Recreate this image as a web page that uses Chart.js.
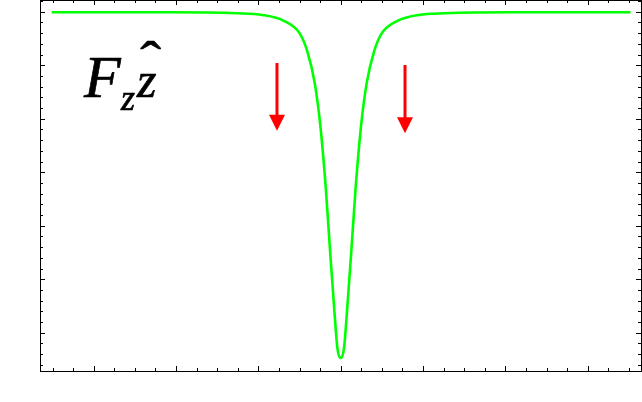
<!DOCTYPE html>
<html>
<head>
<meta charset="utf-8">
<script src="https://cdn.jsdelivr.net/npm/chart.js@4/dist/chart.umd.min.js"></script>
<style>
  html, body { margin: 0; padding: 0; background: #fff; }
  #wrap { position: relative; width: 642px; height: 402px; }
  canvas { position: absolute; left: 0; top: 0; }
  .lbl { position: absolute; font-family: 'Liberation Serif', 'Times New Roman', serif; font-style: italic; line-height: 1; color: #000; white-space: nowrap; -webkit-text-stroke: 0.7px #000; }
</style>
</head>
<body>
<div id="wrap">
  <canvas id="c" width="642" height="402"></canvas>
  <span class="lbl" style="left:84px; top:47px; font-size:60px;">F</span>
  <span class="lbl" style="left:121px; top:80px; font-size:36px;">z</span>
  <span class="lbl" style="left:137px; top:55px; font-size:50px;">z</span>
  <span class="lbl" style="left:142px; top:35px; font-size:52px; font-style:normal; transform:scaleX(1.2); transform-origin:50% 50%;">ˆ</span>
</div>
<script>
// Curve: F_z profile
const curveX = [-3.51, -2.08, -1.26, -0.95, -0.69, -0.50, -0.41, -0.316, -0.248, -0.182, -0.13, -0.069, -0.04, 0,
                 0.04, 0.069, 0.13, 0.182, 0.248, 0.316, 0.41, 0.50, 0.69, 0.95, 1.26, 2.08, 3.52];
const curveY = [-0.01, -0.01, -0.03, -0.06, -0.17, -0.40, -0.72, -1.33, -2.12, -3.28, -4.45, -5.76, -6.29, -6.47,
                -6.29, -5.76, -4.45, -3.28, -2.12, -1.33, -0.72, -0.40, -0.17, -0.06, -0.03, -0.01, -0.01];

// Arrows (x position, top of shaft, tip)
const arrowX   = [-0.774, 0.781];
const arrowTop = [-0.959, -0.996];
const arrowTip = [-2.224, -2.273];

// Axis ranges and tick values (no tick labels)
const xMin = -3.652, xMax = 3.647;
const yMin = -6.716, yMax = 0.219;
const xMajorTicks = [-3, -2, -1, 0, 1, 2, 3];
const yMajorTicks = [0, -1, -2, -3, -4, -5, -6];
const xMinorDiv = 4;
const yMinorDiv = 5;

const points = curveX.map((x, i) => ({ x: x, y: curveY[i] }));

function minorList(majors, div, lo, hi) {
  const step = majors[1] - majors[0];
  const out = [];
  const start = Math.min(...majors) - Math.abs(step) * 2;
  const end = Math.max(...majors) + Math.abs(step) * 2;
  const s = Math.abs(step) / div;
  for (let v = start; v <= end + 1e-9; v += s) {
    const r = Math.round(v * 1000) / 1000;
    if (r < lo || r > hi) continue;
    if (majors.some(m => Math.abs(m - r) < 1e-6)) continue;
    out.push(r);
  }
  return out;
}

const frameTicks = {
  id: 'frameTicks',
  afterDatasetsDraw(chart) {
    const ctx = chart.ctx;
    const a = chart.chartArea;
    const xs = chart.scales.x, ys = chart.scales.y;
    ctx.save();
    ctx.strokeStyle = '#000';
    ctx.lineWidth = 1;
    ctx.beginPath();
    const xMinors = minorList(xMajorTicks, xMinorDiv, xMin, xMax);
    const yMinors = minorList(yMajorTicks, yMinorDiv, yMin, yMax);
    const xt = (v, len) => {
      const p = Math.round(xs.getPixelForValue(v)) + 0.5;
      ctx.moveTo(p, a.bottom); ctx.lineTo(p, a.bottom - len);
      ctx.moveTo(p, a.top); ctx.lineTo(p, a.top + len);
    };
    const yt = (v, len) => {
      const p = Math.round(ys.getPixelForValue(v)) + 0.5;
      ctx.moveTo(a.left, p); ctx.lineTo(a.left + len, p);
      ctx.moveTo(a.right, p); ctx.lineTo(a.right - len, p);
    };
    xMajorTicks.forEach(v => xt(v, 5));
    xMinors.forEach(v => xt(v, 3));
    yMajorTicks.forEach(v => yt(v, 5));
    yMinors.forEach(v => yt(v, 3));
    ctx.stroke();

    // arrows
    ctx.strokeStyle = '#ff0000';
    ctx.fillStyle = '#ff0000';
    const headLen = 16, headW = 16;
    arrowX.forEach((ax, i) => {
      const px = xs.getPixelForValue(ax);
      const pt = ys.getPixelForValue(arrowTop[i]);
      const ptip = ys.getPixelForValue(arrowTip[i]);
      ctx.lineWidth = 3;
      ctx.beginPath();
      ctx.moveTo(px, pt);
      ctx.lineTo(px, ptip - headLen + 1);
      ctx.stroke();
      ctx.beginPath();
      ctx.moveTo(px - headW / 2, ptip - headLen);
      ctx.lineTo(px + headW / 2, ptip - headLen);
      ctx.lineTo(px, ptip);
      ctx.closePath();
      ctx.fill();
    });
    ctx.restore();
  }
};

const axisCommon = {
  type: 'linear',
  grid: { display: false, drawTicks: false, tickLength: 0 },
  ticks: { display: false },
  border: { display: true, color: '#000', width: 1 }
};

new Chart(document.getElementById('c'), {
  type: 'scatter',
  data: {
    datasets: [{
      data: points,
      showLine: true,
      borderColor: '#00ff00',
      borderWidth: 2.6,
      pointRadius: 0,
      pointHoverRadius: 0,
      cubicInterpolationMode: 'monotone',
      fill: false
    }]
  },
  options: {
    responsive: false,
    animation: false,
    events: [],
    layout: { padding: { left: 40, top: 0, right: 1, bottom: 31 } },
    plugins: { legend: { display: false }, tooltip: { enabled: false } },
    scales: {
      x: Object.assign({}, axisCommon, { position: 'bottom', min: xMin, max: xMax }),
      x2: Object.assign({}, axisCommon, { position: 'top', min: xMin, max: xMax }),
      y: Object.assign({}, axisCommon, { position: 'left', min: yMin, max: yMax }),
      y2: Object.assign({}, axisCommon, { position: 'right', min: yMin, max: yMax })
    }
  },
  plugins: [frameTicks]
});
</script>
</body>
</html>
